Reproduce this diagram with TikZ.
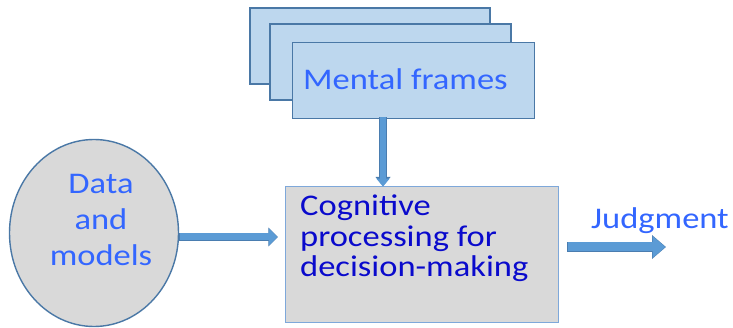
\documentclass[tikz,border=0pt]{standalone}
\usepackage{fontspec}
\setmainfont{Carlito}[FakeStretch=1.15]
\usetikzlibrary{arrows.meta,shapes.geometric}
\definecolor{framefill}{HTML}{BDD7EE}
\definecolor{frameline}{HTML}{4A78A6}
\definecolor{greyfill}{HTML}{D9D9D9}
\definecolor{boxline}{HTML}{7EA8DA}
\definecolor{lightblue}{HTML}{3366FF}
\definecolor{darkblue}{HTML}{0A0ACC}
\definecolor{arrowfill}{HTML}{5B9BD5}
\definecolor{arrowline}{HTML}{4A7DB0}
\begin{document}
\begin{tikzpicture}[x=1pt,y=-1pt,
  framebox/.style={draw=frameline,fill=framefill,line width=1.4pt},
  txt/.style={inner sep=0pt,font=\fontsize{30}{36}\selectfont},
  fatout/.style={line width=#1,color=arrowline},
  fatin/.style={line width=#1,color=arrowfill}]
\useasboundingbox (0,0) rectangle (733,328);
% stacked frames
\path[framebox] (250,8) rectangle (490,84);
\path[framebox] (270,24) rectangle (511,100);
\node[framebox,rectangle,minimum width=242pt,minimum height=76pt,inner sep=0pt,anchor=north west] (f3) at (292,42) {};
\node[txt,text=lightblue,anchor=base west] (ft) at (303,90) {Mental frames};
% ellipse
\node[ellipse,draw=frameline,fill=greyfill,line width=1.4pt,minimum width=169pt,minimum height=187pt,inner sep=0pt] (dm) at (94,233) {};
\node[txt,text=lightblue,align=center,font=\fontsize{30}{36}\selectfont] (dt) at (101,220) {Data\\and\\models};
% cognitive box
\node[draw=boxline,fill=greyfill,line width=1.4pt,rectangle,minimum width=273pt,minimum height=136pt,inner sep=0pt,anchor=north west] (cb) at (285,186) {};
\node[txt,text=darkblue,align=left,anchor=north west,font=\fontsize{30}{30.5}\selectfont] (ct) at (300,195) {Cognitive\\processing for\\decision-making};
% judgment
\node[txt,text=lightblue,anchor=base west] (jt) at (591,229) {Judgment};
% connectors
\coordinate (a1) at (0,237);
\coordinate (va) at (383,0);
\coordinate (jend) at (666,247);
\draw[fatout=8.4pt,-{Triangle[length=9.6pt,width=18.4pt]}] (dm.east |- a1) -- ([xshift=-7pt]cb.west |- a1);
\draw[fatin=7pt,-{Triangle[length=8.5pt,width=16.6pt]}] ([xshift=0.6pt]dm.east |- a1) -- ([xshift=-7.6pt]cb.west |- a1);
\draw[fatout=7.4pt,-{Triangle[length=9pt,width=14.4pt]}] ([yshift=2pt]f3.south -| va) -- (cb.north -| va);
\draw[fatin=6pt,-{Triangle[length=8pt,width=12.8pt]}] ([yshift=2.6pt]f3.south -| va) -- ([yshift=-0.6pt]cb.north -| va);
\draw[fatout=10.4pt,-{Triangle[length=14pt,width=23pt]}] ([xshift=8pt]cb.east |- jend) -- (jend);
\draw[fatin=9pt,-{Triangle[length=12.8pt,width=21.2pt]}] ([xshift=8.6pt]cb.east |- jend) -- ([xshift=-0.7pt]jend);
\end{tikzpicture}
\end{document}
